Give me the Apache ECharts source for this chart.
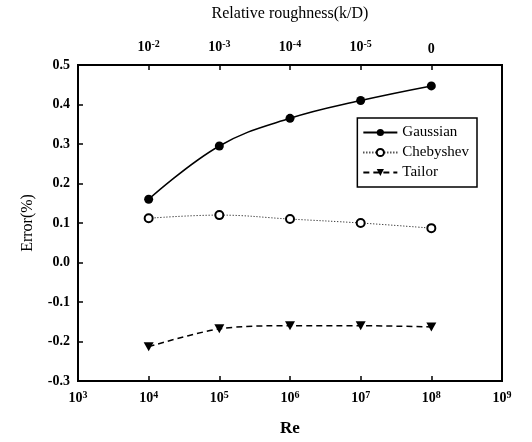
<!DOCTYPE html>
<html><head><meta charset="utf-8">
<script src="https://cdn.jsdelivr.net/npm/echarts@6/dist/echarts.min.js"></script>
<style>html,body{margin:0;padding:0;background:#fff}#c{width:532px;height:442px}</style>
</head><body><div id="c"></div>
<script>
var reValues = [1e4, 1e5, 1e6, 1e7, 1e8];
var gaussian = [0.160, 0.295, 0.365, 0.410, 0.447];
var chebyshev = [0.112, 0.120, 0.110, 0.100, 0.087];
var tailor = [-0.213, -0.168, -0.160, -0.160, -0.163];
var bottomExp = {1e3:'3',1e4:'4',1e5:'5',1e6:'6',1e7:'7',1e8:'8',1e9:'9'};
var topLabels = {1e4:['10','-2'],1e5:['10','-3'],1e6:['10','-4'],1e7:['10','-5'],1e8:['0','']};

function pairs(v){return reValues.map(function(x,i){return [x,v[i]];});}
var font = 'Liberation Serif';
var chart = echarts.init(document.getElementById('c'));
var rich = {
  b:{fontFamily:font,fontWeight:'bold',fontSize:14,color:'#000'},
  s:{fontFamily:font,fontWeight:'bold',fontSize:10,color:'#000',padding:[0,0,7,0]}
};
function near(v,map){
  for (var k in map){ if (Math.abs(Math.log10(v)-Math.log10(+k))<0.01) return map[k]; }
  return null;
}
chart.setOption({
  animation:false,
  grid:{left:78,right:30,top:65,bottom:61,show:true,borderColor:'#000',borderWidth:2},
  legend:{
    right:55, top:118, orient:'vertical', itemGap:5, itemWidth:34, itemHeight:9,
    borderColor:'#000', borderWidth:1.5, borderRadius:0, padding:[7,8,7,5],
    backgroundColor:'#fff',
    textStyle:{fontFamily:font,fontSize:15,color:'#000'},
    data:['Gaussian','Chebyshev','Tailor']
  },
  xAxis:[{
    type:'log', logBase:10, min:1e3, max:1e9, position:'bottom',
    name:'Re', nameLocation:'middle', nameGap:39,
    nameTextStyle:{fontFamily:font,fontWeight:'bold',fontSize:17,color:'#000'},
    axisLine:{onZero:false,lineStyle:{color:'#000',width:2}},
    axisTick:{inside:true,length:5,lineStyle:{color:'#000',width:1.5}},
    minorTick:{show:false}, splitLine:{show:false},
    axisLabel:{margin:9,formatter:function(v){var e=near(v,bottomExp);return e?'{b|10}{s|'+e+'}':'';},rich:rich}
  },{
    type:'log', logBase:10, min:1e3, max:1e9, position:'top',
    name:'Relative roughness(k/D)', nameLocation:'middle', nameGap:43,
    nameTextStyle:{fontFamily:font,fontSize:16,color:'#000'},
    axisLine:{onZero:false,lineStyle:{color:'#000',width:2}},
    axisTick:{inside:true,length:5,lineStyle:{color:'#000',width:1.5}},
    splitLine:{show:false},
    axisLabel:{margin:9,formatter:function(v){var t=near(v,topLabels);if(!t)return '';return t[1]?'{b|'+t[0]+'}{s|'+t[1]+'}':'{b|'+t[0]+'}';},rich:rich}
  }],
  yAxis:[{
    type:'value', min:-0.3, max:0.5, interval:0.1, position:'left',
    name:'Error(%)', nameLocation:'middle', nameGap:42, nameRotate:90,
    nameTextStyle:{fontFamily:font,fontSize:16,color:'#000'},
    axisLine:{show:true,onZero:false,lineStyle:{color:'#000',width:2}},
    axisTick:{show:true,inside:true,length:5,lineStyle:{color:'#000',width:1.5}},
    splitLine:{show:false},
    axisLabel:{fontFamily:font,fontWeight:'bold',fontSize:14,color:'#000',margin:8,
      formatter:function(v){return v.toFixed(1);}}
  },{
    type:'value', min:-0.3, max:0.5, interval:0.1, position:'right',
    axisLine:{show:true,onZero:false,lineStyle:{color:'#000',width:2}},
    axisTick:{show:false}, axisLabel:{show:false}, splitLine:{show:false}
  }],
  series:[{
    name:'Gaussian', type:'line', data:pairs(gaussian), smooth:0.4,
    symbol:'circle', symbolSize:9, itemStyle:{color:'#000'},
    lineStyle:{color:'#000',width:1.5,type:'solid'}
  },{
    name:'Chebyshev', type:'line', data:pairs(chebyshev), smooth:0.4,
    symbol:'emptyCircle', symbolSize:8, itemStyle:{color:'#000',borderWidth:1.5},
    lineStyle:{color:'#000',width:1,type:[1,2]}
  },{
    name:'Tailor', type:'line', data:pairs(tailor), smooth:0.3,
    symbol:'path://M0,0 L10,0 L5,9 Z', symbolSize:[10,9], itemStyle:{color:'#000'},
    lineStyle:{color:'#000',width:1.5,type:[6,4]}
  }]
});
</script></body></html>
